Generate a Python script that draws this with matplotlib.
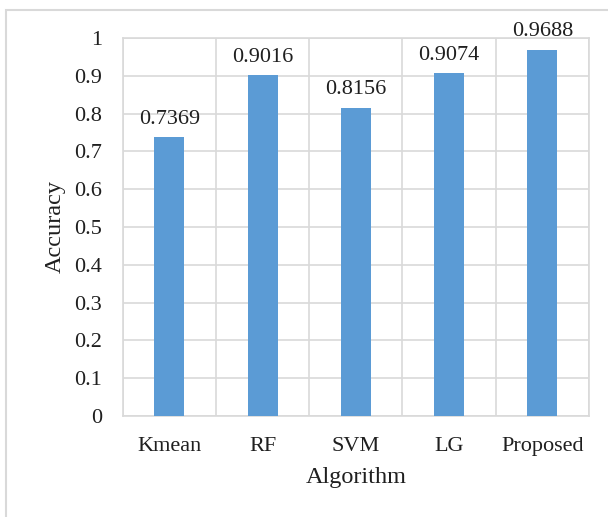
import numpy as np
import matplotlib
matplotlib.use('Agg')
matplotlib.rcParams['font.family'] = ['Liberation Serif', 'DejaVu Serif']
import matplotlib.pyplot as plt
from matplotlib.patches import Rectangle

# 各算法准确率
algorithms = ['Kmean', 'RF', 'SVM', 'LG', 'Proposed']
accuracy = [0.7369, 0.9016, 0.8156, 0.9074, 0.9688]

bar_color = '#5b9bd5'
grid_color = '#d9d9d9'
text_color = '#1f1f1f'

fig = plt.figure(figsize=(6.08, 5.17), dpi=100)

# 外边框（只露出左边和上边）
frame = Rectangle((6 / 608, -0.1), 1.2, 1.1 - 10 / 517, transform=fig.transFigure,
                  fill=False, edgecolor=grid_color, linewidth=1.5)
fig.patches.append(frame)

ax = fig.add_axes([0.2018, 0.1954, 0.9688 - 0.2018, 0.9265 - 0.1954])

x = np.arange(len(algorithms))
bars = ax.bar(x, accuracy, width=0.32, color=bar_color, zorder=3)

for bar, v in zip(bars, accuracy):
    ax.annotate(f'{v:.4f}', xy=(bar.get_x() + bar.get_width() / 2, v),
                xytext=(0, 6), textcoords='offset points',
                ha='center', va='bottom', fontsize=16, color=text_color)

ax.set_xlim(-0.5, len(algorithms) - 0.5)
ax.set_ylim(0, 1)
ax.set_yticks(np.arange(0, 1.01, 0.1))
ax.set_yticklabels(['0'] + [f'{t:.1f}' for t in np.arange(0.1, 0.95, 0.1)] + ['1'])
ax.set_xticks(x)
ax.set_xticklabels(algorithms)

# 类别分隔竖线 + 水平网格
ax.set_xticks(np.arange(-0.5, len(algorithms), 1), minor=True)
ax.grid(axis='x', which='minor', color=grid_color, linewidth=1.2, zorder=0)
ax.grid(axis='y', which='major', color=grid_color, linewidth=1.2, zorder=0)
ax.grid(axis='x', which='major', visible=False)

for s in ax.spines.values():
    s.set_color(grid_color)
    s.set_linewidth(1.2)

ax.tick_params(axis='both', which='both', length=0, labelsize=16, colors=text_color)
ax.tick_params(axis='y', pad=15)
ax.tick_params(axis='x', pad=15)

ax.set_xlabel('Algorithm', fontsize=17.5, color=text_color, labelpad=8)
ax.set_ylabel('Accuracy', fontsize=17.5, color=text_color, labelpad=6)

fig.savefig('out.png', dpi=100)
